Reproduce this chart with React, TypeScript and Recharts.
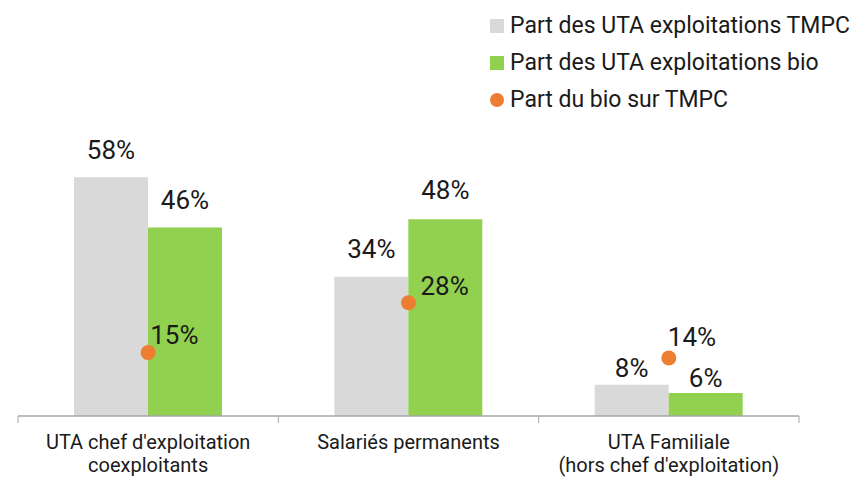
import React from 'react';
import { ComposedChart, Bar, Line, XAxis, YAxis, LabelList } from 'recharts';

const categories = ["UTA chef d'exploitation\ncoexploitants", 'Salariés permanents', "UTA Familiale\n(hors chef d'exploitation)"];
const tmpcShare = [58, 33.8, 7.6];
const bioShare = [45.8, 47.8, 5.6];
const bioOverTmpc = [15.4, 27.5, 14.1];
const seriesNames = ['Part des UTA exploitations TMPC', 'Part des UTA exploitations bio', 'Part du bio sur TMPC'];

const data = categories.map((c, i) => ({ name: c, tmpc: tmpcShare[i], bio: bioShare[i], part: bioOverTmpc[i] }));

const W = 866;
const H = 484;
const M = { top: 169, right: 67, bottom: 0, left: 18 };
const BAND = (W - M.left - M.right) / categories.length;
const FONT = 'Roboto, sans-serif';
const GREY = '#D9D9D9';
const GREEN = '#92D050';
const ORANGE = '#ED7D31';
const AXIS = '#A6A6A6';

// label placement tweaks (layout only, per category)
const barLabelGap = [18, 19, 8];
const bioLabelGap = [18, 20, 6];
const dotLabelShift = [
  { dx: 2, dy: -9 },
  { dx: 12, dy: -8 },
  { dx: -1, dy: -12 },
];

const fmt = (v: any) => `${Math.round(Number(v))}%`;

const CatTick = (props: any) => {
  const { x, y, payload, index } = props;
  const lines = String(payload.value).split('\n');
  return (
    <g>
      <line x1={x - BAND / 2} x2={x - BAND / 2} y1={y} y2={y + 7} stroke={AXIS} strokeWidth={1} />
      {index === categories.length - 1 && (
        <line x1={x + BAND / 2} x2={x + BAND / 2} y1={y} y2={y + 7} stroke={AXIS} strokeWidth={1} />
      )}
      <text x={x} y={y + 33} textAnchor="middle" fontFamily={FONT} fontSize={20} fill="#1a1a1a">
        {lines.map((l, i) => (
          <tspan key={i} x={x} dy={i === 0 ? 0 : 23}>{l}</tspan>
        ))}
      </text>
    </g>
  );
};

const DotLabel = (props: any) => {
  const { x, y, value, index } = props;
  const s = dotLabelShift[index] || { dx: 4, dy: -9 };
  return (
    <text x={x + s.dx} y={y + s.dy} textAnchor="start" fontFamily={FONT} fontSize={26} fill="#1a1a1a">
      {fmt(value)}
    </text>
  );
};

const makeBarLabel = (gaps: number[]) => (props: any) => {
  const { x, y, width, value, index } = props;
  return (
    <text x={x + width / 2} y={y - gaps[index]} textAnchor="middle" fontFamily={FONT} fontSize={26} fill="#1a1a1a">
      {fmt(value)}
    </text>
  );
};
const TmpcLabel = makeBarLabel(barLabelGap);
const BioLabel = makeBarLabel(bioLabelGap);

const LegendBox = () => {
  const colors = [GREY, GREEN, ORANGE];
  return (
    <div style={{ position: 'absolute', left: 490, top: 7, fontFamily: FONT, fontSize: 23, color: '#1a1a1a' }}>
      {seriesNames.map((n, i) => (
        <div key={n} style={{ display: 'flex', alignItems: 'center', height: 37, whiteSpace: 'nowrap' }}>
          <span
            style={{
              display: 'inline-block',
              width: 14,
              height: 14,
              background: colors[i],
              borderRadius: i === 2 ? '50%' : 0,
              marginRight: 6,
            }}
          />
          <span>{n}</span>
        </div>
      ))}
    </div>
  );
};

export default function App() {
  return (
    <div style={{ position: 'absolute', left: 0, top: 0, width: W, height: H }}>
      <ComposedChart width={W} height={H} data={data} margin={M} barGap={0} barSize={74}>
        <XAxis
          dataKey="name"
          axisLine={{ stroke: AXIS, strokeWidth: 1.5 }}
          tickLine={false}
          tickSize={0}
          tickMargin={0}
          height={68}
          interval={0}
          tick={<CatTick />}
        />
        <YAxis hide domain={[0, 60]} allowDataOverflow />
        <Bar dataKey="tmpc" fill={GREY} isAnimationActive={false}>
          <LabelList dataKey="tmpc" content={<TmpcLabel />} />
        </Bar>
        <Bar dataKey="bio" fill={GREEN} isAnimationActive={false}>
          <LabelList dataKey="bio" content={<BioLabel />} />
        </Bar>
        <Line
          dataKey="part"
          stroke="none"
          dot={{ r: 7.5, fill: ORANGE, stroke: 'none' }}
          activeDot={false}
          isAnimationActive={false}
        >
          <LabelList dataKey="part" content={<DotLabel />} />
        </Line>
      </ComposedChart>
      <LegendBox />
    </div>
  );
}
